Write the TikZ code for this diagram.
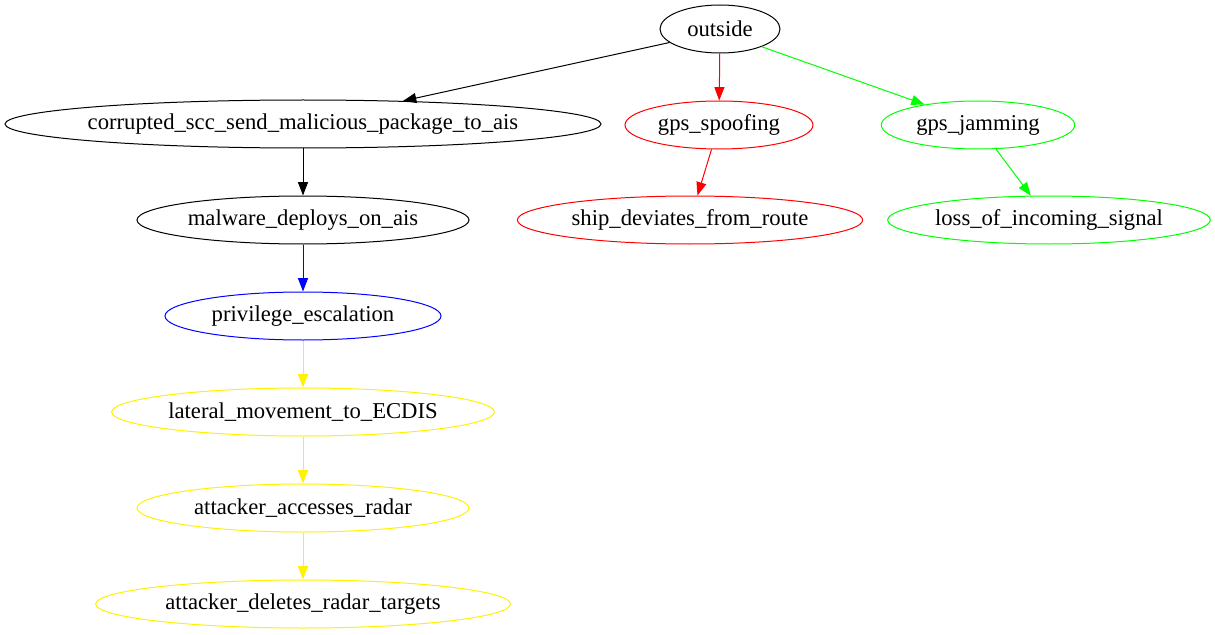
\documentclass[tikz,border=0pt]{standalone}
\usepackage{xcolor}
\usepackage{fontspec}
\setmainfont{Liberation Serif}
\usepackage{tikz}
\usetikzlibrary{shapes.geometric,arrows.meta}

\begin{document}
\begin{tikzpicture}[x=0.75pt,y=-0.75pt,
  event/.style={draw, ellipse, inner xsep=-4pt, inner ysep=0pt, minimum height=36pt, line width=0.75pt,
    font=\fontsize{17pt}{19pt}\selectfont},
  link/.style={line width=0.75pt, -{Triangle[length=10pt,width=7.5pt]}}]
\useasboundingbox (0,0) rectangle (1215,635);
\node[event, minimum width=90pt] (outside) at (720,29) {outside};
\node[event, minimum width=447pt] (corrupted) at (303,124) {corrupted\_scc\_send\_malicious\_package\_to\_ais};
\node[event, draw=red, minimum width=141pt] (spoofing) at (719,125) {gps\_spoofing};
\node[event, draw=green, minimum width=145pt] (jamming) at (978,125) {gps\_jamming};
\node[event, minimum width=249pt] (malware) at (303,220) {malware\_deploys\_on\_ais};
\node[event, draw=red, minimum width=259pt] (deviates) at (690,220) {ship\_deviates\_from\_route};
\node[event, draw=green, minimum width=242pt] (signal) at (1049,220) {loss\_of\_incoming\_signal};
\node[event, draw=blue, minimum width=207pt] (privilege) at (303,316) {privilege\_escalation};
\node[event, draw=yellow, minimum width=287pt] (lateral) at (303,412) {lateral\_movement\_to\_ECDIS};
\node[event, draw=yellow, minimum width=249pt] (radar) at (303,508) {attacker\_accesses\_radar};
\node[event, draw=yellow, minimum width=311pt] (targets) at (303,604) {attacker\_deletes\_radar\_targets};
\draw[link] (outside.195) -- (corrupted.13);
\draw[link, red] (outside) -- (spoofing);
\draw[link, green] (outside.337) -- (jamming.159);
\draw[link] (corrupted) -- (malware);
\draw[link, red] (spoofing) -- (deviates);
\draw[link, green] (jamming) -- (signal);
\draw[link, blue] (malware) -- (privilege);
\draw[link, yellow] (privilege) -- (lateral);
\draw[link, yellow] (lateral) -- (radar);
\draw[link, yellow] (radar) -- (targets);
\end{tikzpicture}
\end{document}
